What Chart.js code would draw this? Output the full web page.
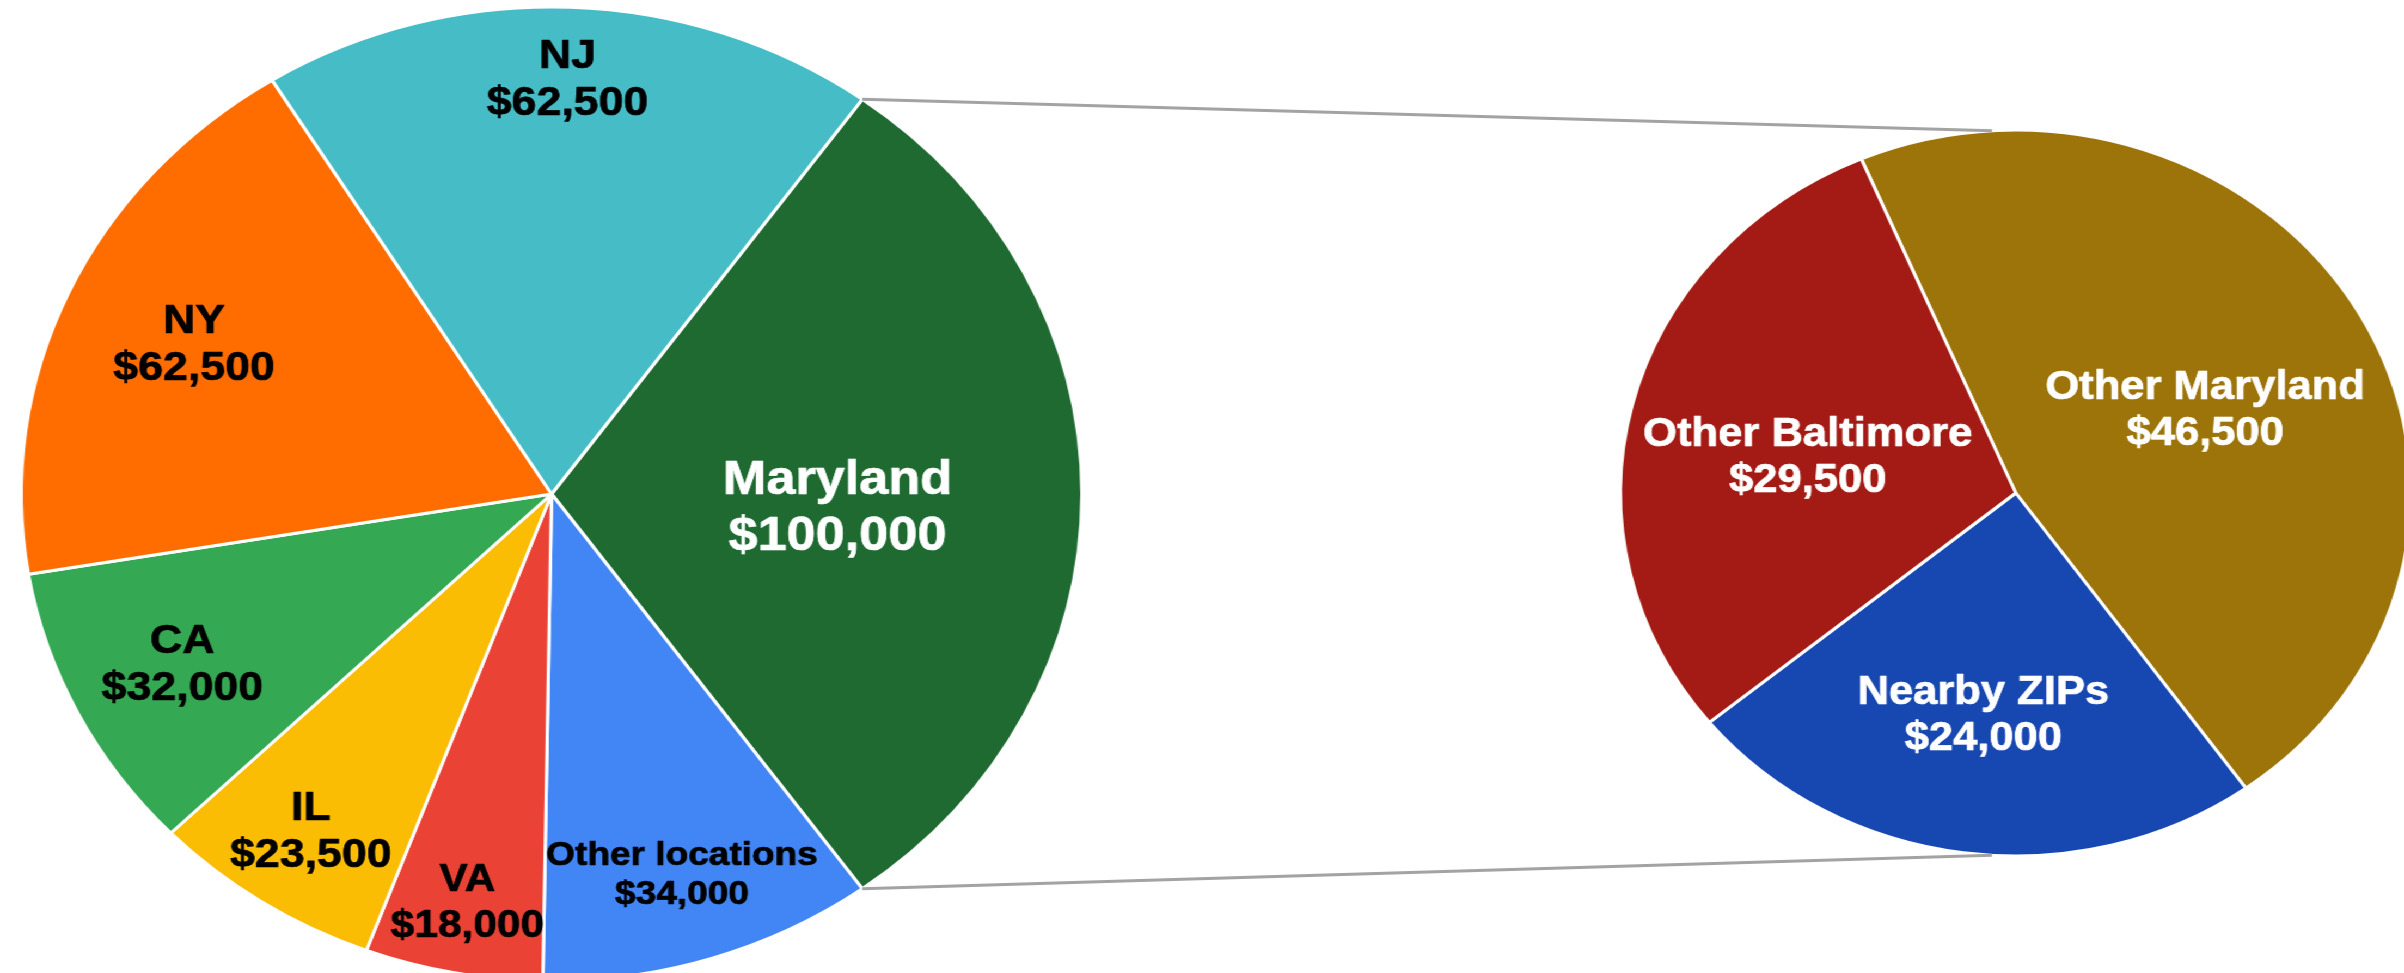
<!DOCTYPE html>
<html>
<head>
<meta charset="utf-8">
<script src="https://cdn.jsdelivr.net/npm/chart.js@4"></script>
<style>
  html, body { margin: 0; padding: 0; background: #fff; overflow: hidden; }
  #wrap { position: relative; width: 2208px; height: 973px; transform: scaleX(1.089); transform-origin: 0 0; }
  #wrap canvas { position: absolute; left: 0; top: 0; }
</style>
</head>
<body>
<div id="wrap">
  <canvas id="statesChart" width="2208" height="973"></canvas>
  <canvas id="marylandChart" width="2208" height="973"></canvas>
</div>
<script>
// Donations by location (first pie) and the Maryland breakdown (second pie)
const stateLabels = ["Maryland", "Other locations", "VA", "IL", "CA", "NY", "NJ"];
const stateValues = [100000, 34000, 18000, 23500, 32000, 62500, 62500];
const stateColors = ["#1E6A31", "#4285F4", "#EA4335", "#FBBC04", "#34A853", "#FF6D01", "#46BDC6"];

const marylandLabels = ["Other Maryland", "Nearby ZIPs", "Other Baltimore"];
const marylandValues = [46500, 24000, 29500];
const marylandColors = ["#9C7409", "#1747B1", "#A41B15"];

// label styling per slice: distance from centre (fraction of radius), angle nudge (deg), font size, colour
const stateLabelPos = [0.54, 0.82, 0.855, 0.83, 0.78, 0.74, 0.85];
const stateLabelTurn = [3.2, 0, 0, 0, 0, 0, 0];
const stateLabelSize = [48, 34, 39, 41, 41, 41, 41];
const stateLabelColor = ["#fff", "#000", "#000", "#000", "#000", "#000", "#000"];

const marylandLabelPos = [0.53, 0.62, 0.535];
const marylandLabelTurn = [4, 0, -3.5];
const marylandLabelSize = [40, 40, 40];
const marylandLabelColor = ["#fff", "#fff", "#fff"];

function money(v) {
    return "$" + v.toLocaleString("en-US");
}

// draws "name / $value" inside each slice
const sliceLabels = {
    id: "sliceLabels",
    afterDatasetsDraw(chart, args, opts) {
        const ctx = chart.ctx;
        const meta = chart.getDatasetMeta(0);
        ctx.save();
        ctx.textAlign = "center";
        ctx.textBaseline = "middle";
        ctx.lineJoin = "round";
        meta.data.forEach((arc, i) => {
            const p = arc.getProps(["x", "y", "startAngle", "endAngle", "outerRadius"], true);
            const mid = (p.startAngle + p.endAngle) / 2 + (opts.turn[i] * Math.PI) / 180;
            const r = p.outerRadius * opts.pos[i];
            const cx = p.x + Math.cos(mid) * r;
            const cy = p.y + Math.sin(mid) * r;
            const size = opts.size[i];
            const gap = size * 0.58;
            ctx.font = "bold " + size + "px 'Liberation Sans', Arial, sans-serif";
            ctx.fillStyle = opts.color[i];
            ctx.strokeStyle = opts.color[i];
            ctx.lineWidth = 0.7;
            const lines = [chart.data.labels[i], money(chart.data.datasets[0].data[i])];
            lines.forEach((t, k) => {
                const ty = cy + (k === 0 ? -gap : gap);
                ctx.strokeText(t, cx, ty);
                ctx.fillText(t, cx, ty);
            });
        });
        ctx.restore();
    },
};

var statesChart = new Chart(document.getElementById("statesChart"), {
    type: "pie",
    data: {
        labels: stateLabels,
        datasets: [
            {
                data: stateValues,
                backgroundColor: stateColors,
                borderColor: "#fff",
                borderWidth: 3,
            },
        ],
    },
    options: {
        responsive: false,
        animation: false,
        rotation: 90 - (stateValues[0] / stateValues.reduce((a, b) => a + b, 0)) * 180,
        radius: 487,
        layout: { padding: { left: 0, right: 1195, top: 15, bottom: 0 } },
        plugins: {
            legend: { display: false },
            tooltip: { enabled: false },
            sliceLabels: { pos: stateLabelPos, turn: stateLabelTurn, size: stateLabelSize, color: stateLabelColor },
        },
    },
    plugins: [sliceLabels],
});

// grey connector lines from the Maryland slice to the second pie
const connectors = {
    id: "connectors",
    afterDraw(chart) {
        const big = statesChart.getDatasetMeta(0).data[0].getProps(["x", "y", "startAngle", "endAngle", "outerRadius"], true);
        const small = chart.getDatasetMeta(0).data[0].getProps(["x", "y", "outerRadius"], true);
        const dx = -0.06 * small.outerRadius;
        const dy = Math.sqrt(small.outerRadius * small.outerRadius - dx * dx);
        const ctx = chart.ctx;
        ctx.save();
        ctx.strokeStyle = "#a3a3a3";
        ctx.lineWidth = 3;
        ctx.beginPath();
        ctx.moveTo(big.x + Math.cos(big.startAngle) * big.outerRadius, big.y + Math.sin(big.startAngle) * big.outerRadius);
        ctx.lineTo(small.x + dx, small.y - dy);
        ctx.moveTo(big.x + Math.cos(big.endAngle) * big.outerRadius, big.y + Math.sin(big.endAngle) * big.outerRadius);
        ctx.lineTo(small.x + dx, small.y + dy);
        ctx.stroke();
        ctx.restore();
    },
};

var marylandChart = new Chart(document.getElementById("marylandChart"), {
    type: "pie",
    data: {
        labels: marylandLabels,
        datasets: [
            {
                data: marylandValues,
                backgroundColor: marylandColors,
                borderColor: "#fff",
                borderWidth: 3,
            },
        ],
    },
    options: {
        responsive: false,
        animation: false,
        rotation: -23,
        radius: 363,
        layout: { padding: { left: 1494, right: 0, top: 13, bottom: 0 } },
        plugins: {
            legend: { display: false },
            tooltip: { enabled: false },
            sliceLabels: { pos: marylandLabelPos, turn: marylandLabelTurn, size: marylandLabelSize, color: marylandLabelColor },
        },
    },
    plugins: [sliceLabels, connectors],
});
</script>
</body>
</html>
